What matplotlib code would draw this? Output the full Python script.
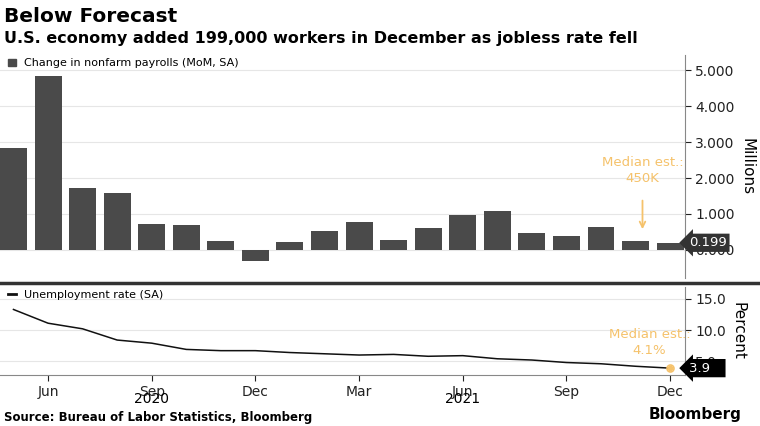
import matplotlib.pyplot as plt
from matplotlib.ticker import FuncFormatter

months = ["May", "Jun", "Jul", "Aug", "Sep", "Oct", "Nov", "Dec",
          "Jan", "Feb", "Mar", "Apr", "May", "Jun", "Jul", "Aug", "Sep", "Oct", "Nov", "Dec"]
payrolls = [2.83, 4.85, 1.73, 1.58, 0.72, 0.68, 0.26, -0.30, 0.23, 0.54,
            0.79, 0.27, 0.61, 0.96, 1.09, 0.48, 0.38, 0.65, 0.25, 0.199]
unemployment = [13.3, 11.1, 10.2, 8.4, 7.9, 6.9, 6.7, 6.7, 6.4, 6.2,
                6.0, 6.1, 5.8, 5.9, 5.4, 5.2, 4.8, 4.6, 4.2, 3.9]
tick_idx = [1, 4, 7, 10, 13, 16, 19]

W, H = 760, 426
fig = plt.figure(figsize=(7.6, 4.26), dpi=100)
orange = "#f5c26b"
bar_color = "#4a4a4a"

def box(l, t, r, b):
    return [l / W, 1 - b / H, (r - l) / W, (b - t) / H]

x = range(len(months))
ax1 = fig.add_axes(box(0, 55, 685, 278))
ax1.bar(x, payrolls, width=0.78, color=bar_color)
ax1.set_xlim(-0.39, 19.43)
ax1.set_ylim(-0.78, 5.42)
ax1.yaxis.tick_right()
ax1.set_yticks([0, 1, 2, 3, 4, 5])
ax1.yaxis.set_major_formatter(FuncFormatter(lambda v, p: f"{v:.3f}"))
ax1.set_xticks([])
for s in ["top", "left", "bottom"]:
    ax1.spines[s].set_visible(False)
ax1.spines["right"].set_color("#888888")
ax1.tick_params(axis="y", labelsize=10, colors="#222222", length=4)
ax1.set_ylabel("Millions", rotation=270, labelpad=14, fontsize=11)
ax1.yaxis.set_label_position("right")
ax1.grid(axis="y", color="#e6e6e6", lw=0.8)
ax1.set_axisbelow(True)
ax1.legend(handles=[plt.Rectangle((0, 0), 1, 1, color=bar_color)],
           labels=["Change in nonfarm payrolls (MoM, SA)"], loc="upper left",
           bbox_to_anchor=(0.0, 1.02), frameon=False, fontsize=8,
           handlelength=0.7, handleheight=0.7, borderaxespad=0.3)
ax1.text(18.2, 2.2, "Median est.:\n450K", color=orange, fontsize=9.5,
         ha="center", va="center", linespacing=1.3)
ax1.annotate("", xy=(18.2, 0.5), xytext=(18.2, 1.45),
             arrowprops=dict(arrowstyle="->", color=orange, lw=1.3))
ax1.text(19.55, payrolls[-1], f"{payrolls[-1]:.3f}", color="white", fontsize=9.5,
         va="center", ha="left",
         bbox=dict(boxstyle="larrow,pad=0.2", fc="#333333", ec="none"),
         clip_on=False)

fig.add_artist(plt.Line2D([0, 1], [1 - 283 / H, 1 - 283 / H], color="#333333", lw=2.5))

ax2 = fig.add_axes(box(0, 287, 685, 375))
ax2.plot(list(x), unemployment, color="#111111", lw=1.1)
ax2.plot([19], [unemployment[-1]], "o", ms=5, mfc="none", mec=orange, mew=1.2)
ax2.plot([19], [unemployment[-1]], "o", ms=3, color=orange)
ax2.set_xlim(-0.39, 19.43)
ax2.set_ylim(2.8, 16.9)
ax2.yaxis.tick_right()
ax2.set_yticks([5, 10, 15])
ax2.yaxis.set_major_formatter(FuncFormatter(lambda v, p: f"{v:.1f}"))
ax2.set_xticks(tick_idx)
ax2.set_xticklabels([months[i] for i in tick_idx], fontsize=10)
for s in ["top", "left"]:
    ax2.spines[s].set_visible(False)
ax2.spines["right"].set_color("#888888")
ax2.spines["bottom"].set_color("#888888")
ax2.tick_params(axis="both", labelsize=10, colors="#222222", length=4)
ax2.set_ylabel("Percent", rotation=270, labelpad=14, fontsize=11)
ax2.yaxis.set_label_position("right")
ax2.grid(axis="y", color="#e6e6e6", lw=0.8)
ax2.legend(handles=[plt.Line2D([], [], color="#111111", lw=2)],
           labels=["Unemployment rate (SA)"], loc="upper left",
           bbox_to_anchor=(0.0, 1.05), frameon=False, fontsize=8,
           handlelength=0.7, borderaxespad=0.3)
ax2.text(18.4, 8.0, "Median est.:\n4.1%", color=orange, fontsize=9.5,
         ha="center", va="center", linespacing=1.3)
ax2.text(19.55, unemployment[-1], f"{unemployment[-1]:.1f}   ", color="white",
         fontsize=9.5, va="center", ha="left",
         bbox=dict(boxstyle="larrow,pad=0.2", fc="black", ec="none"), clip_on=False)
ax2.text(4, -0.27, "2020", transform=ax2.get_xaxis_transform(), ha="center",
         va="center", fontsize=10)
ax2.text(13, -0.27, "2021", transform=ax2.get_xaxis_transform(), ha="center",
         va="center", fontsize=10)

fig.text(0.005, 1 - 16 / H, "Below Forecast", fontsize=14.5, fontweight="bold", va="center")
fig.text(0.005, 1 - 38 / H, "U.S. economy added 199,000 workers in December as jobless rate fell",
         fontsize=11.5, fontweight="bold", va="center")
fig.text(0.005, 1 - 418 / H, "Source: Bureau of Labor Statistics, Bloomberg",
         fontsize=8.5, fontweight="bold", va="center")
fig.text(0.975, 1 - 415 / H, "Bloomberg", fontsize=11, fontweight="bold", va="center", ha="right")

fig.savefig("out.png", dpi=100)
